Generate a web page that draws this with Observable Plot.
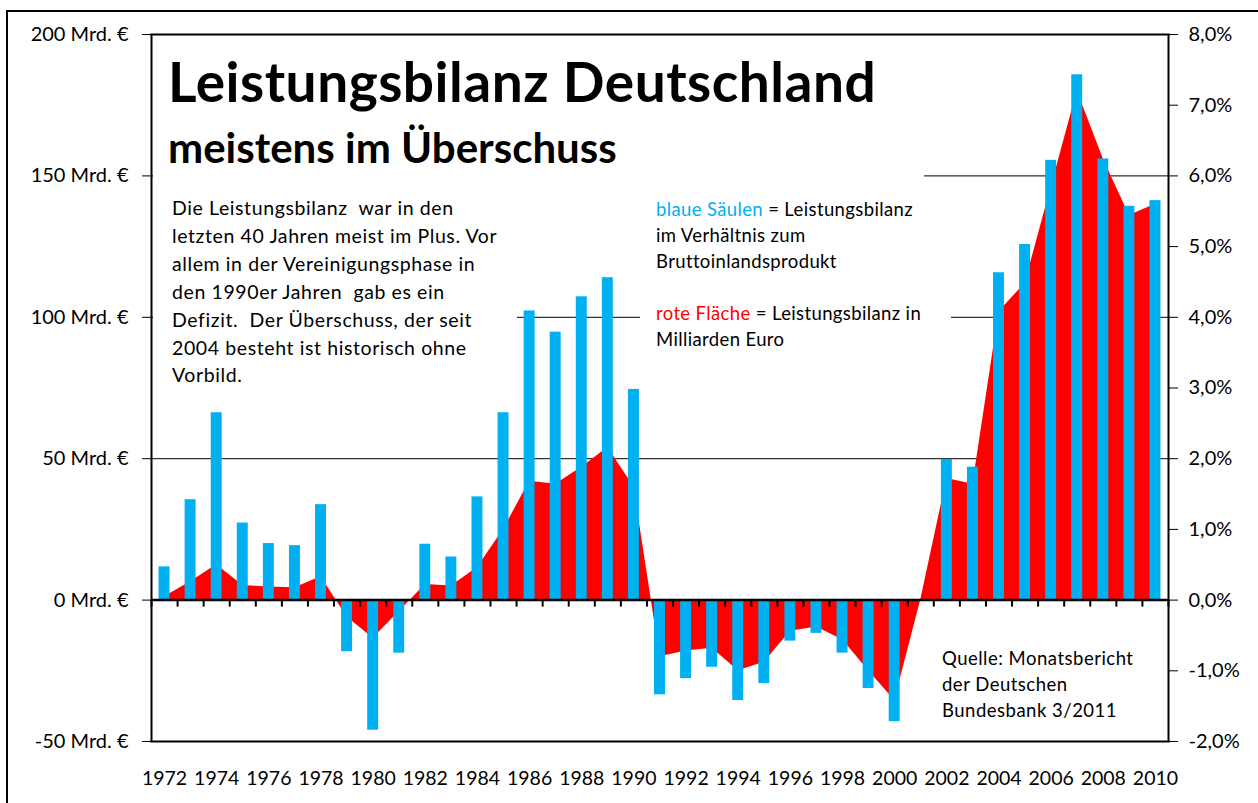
<!DOCTYPE html>
<html><head><meta charset="utf-8">
<script src="https://cdn.jsdelivr.net/npm/d3@7"></script>
<script src="https://cdn.jsdelivr.net/npm/@observablehq/plot@0.6"></script>
<style>
body{margin:0;background:#fff;}
#wrap{position:relative;width:1258px;height:803px;overflow:hidden;}
</style></head><body><div id="wrap"></div>
<script>
// ---- data ----
const years = [1972,1973,1974,1975,1976,1977,1978,1979,1980,1981,1982,1983,1984,1985,1986,1987,1988,1989,1990,
  1991,1992,1993,1994,1995,1996,1997,1998,1999,2000,2001,2002,2003,2004,2005,2006,2007,2008,2009,2010];
// red area: Leistungsbilanz in Mrd. €
const saldoMrd = [1.2,6.5,12.5,5.2,4.6,4.4,8.3,-6,-13.5,-4,5.5,5,11.5,25,42,41,47,54,40,
  -20,-18,-17,-25,-22,-11,-9.5,-14,-25,-35.5,0,43,41,102,112,146,180,156,136,140];
// blue bars: Leistungsbilanz in % des BIP
const saldoPct = [0.47,1.42,2.65,1.09,0.80,0.77,1.35,-0.73,-1.84,-0.75,0.79,0.61,1.46,2.65,4.09,3.79,4.29,4.56,2.98,
  -1.34,-1.11,-0.95,-1.42,-1.18,-0.58,-0.47,-0.75,-1.25,-1.72,0,1.99,1.88,4.63,5.03,6.22,7.43,6.24,5.57,5.65];
const leftTicks = [-50,0,50,100,150,200];
const rightTicks = [-2,-1,0,1,2,3,4,5,6,7,8];
const xLabels = [1972,1974,1976,1978,1980,1982,1984,1986,1988,1990,1992,1994,1996,1998,2000,2002,2004,2006,2008,2010];
const gridLines = [50,100,150];
const pctToMrd = 25; // 8,0% <-> 200 Mrd. €

const titleText = "Leistungsbilanz Deutschland";
const subtitleText = "meistens im Überschuss";
const noteLines = ["Die Leistungsbilanz  war in den","letzten 40 Jahren meist im Plus. Vor","allem in der Vereinigungsphase in",
  "den 1990er Jahren  gab es ein","Defizit.  Der Überschuss, der seit","2004 besteht ist historisch ohne","Vorbild."];
const legendLines = [[["blaue Säulen","#00B0F0"],[" = Leistungsbilanz","#000"]],[["im Verhältnis zum","#000"]],
  [["Bruttoinlandsprodukt","#000"]],[],[["rote Fläche","#FF0000"],[" = Leistungsbilanz in","#000"]],[["Milliarden Euro","#000"]]];
const sourceLines = ["Quelle: Monatsbericht","der Deutschen","Bundesbank 3/2011"];

const table = years.map((year,i) => ({year, mrd: saldoMrd[i], pct: saldoPct[i]}));
const boundaries = years.map(y => y - 0.5).concat([years[years.length-1] + 0.5]);

const FONT = "Lato, 'Open Sans', sans-serif";
const chart = Plot.plot({
  width: 1258, height: 803,
  marginLeft: 151, marginRight: 90, marginTop: 34, marginBottom: 62,
  style: {fontFamily: FONT, fontSize: "19.5px", color: "#000", background: "#fff"},
  x: {domain: [years[0]-0.5, years[years.length-1]+0.5]},
  y: {domain: [-50, 200]},
  marks: [
    Plot.ruleY(gridLines, {stroke: "#000", strokeWidth: 1}),
    Plot.areaY(table, {x: "year", y: "mrd", fill: "#FF0000"}),
    Plot.rect(table, {x1: d => d.year - 0.21, x2: d => d.year + 0.21, y1: 0, y2: d => d.pct * pctToMrd, fill: "#00B0F0"}),
    Plot.ruleY([0], {stroke: "#000", strokeWidth: 2.5}),
    Plot.ruleX(boundaries, {y1: 0, y2: 0, insetBottom: -7, stroke: "#000", strokeWidth: 2}),
    Plot.frame({stroke: "#000", strokeWidth: 2}),
    Plot.axisY(leftTicks, {anchor: "left", tickSize: 9, tickPadding: 14, fontSize: 20,
      tickFormat: d => `${d} Mrd. €`, label: null}),
    Plot.axisY(rightTicks.map(p => p * pctToMrd), {anchor: "right", tickSize: 9, tickPadding: 11, fontSize: 20,
      tickFormat: d => (d / pctToMrd).toFixed(1).replace(".", ",") + "%", label: null}),
    Plot.axisX(xLabels, {anchor: "bottom", tickSize: 0, tickPadding: 30, tickFormat: d => String(d), label: null})
  ]
});
document.getElementById("wrap").appendChild(chart);

// ---- annotations (white text boxes over the gridlines) ----
const svg = d3.select(chart);
const ann = svg.append("g").attr("font-family", FONT).attr("fill", "#000").attr("text-anchor", "start");
[[153,36,771,152],[153,190,364,210],[640,190,311,170]].forEach(([x,y,w,h]) =>
  ann.append("rect").attr("x", x).attr("y", y).attr("width", w).attr("height", h).attr("fill", "#fff"));

ann.append("text").attr("x", 168).attr("y", 102).attr("font-size", 55).attr("letter-spacing", 0.5)
  .attr("font-weight", 700).text(titleText);
ann.append("text").attr("x", 168).attr("y", 163).attr("font-size", 42).attr("font-weight", 700).text(subtitleText);

noteLines.forEach((t, i) => ann.append("text").attr("x", 172).attr("y", 215 + i * 27.9)
  .attr("font-size", 19.5).attr("letter-spacing", 0.6).style("white-space", "pre").text(t));

legendLines.forEach((parts, i) => {
  const t = ann.append("text").attr("x", 656).attr("y", 216 + i * 25.9).attr("font-size", 18.5)
    .attr("letter-spacing", 0.37).style("white-space", "pre");
  parts.forEach(([s, c]) => t.append("tspan").attr("fill", c).text(s));
});

sourceLines.forEach((t, i) => ann.append("text").attr("x", 942).attr("y", 665 + i * 25.9)
  .attr("font-size", 18.5).attr("letter-spacing", 0.5).text(t));

// outer frame of the picture
ann.append("line").attr("x1", 7).attr("x2", 7).attr("y1", 10).attr("y2", 803).attr("stroke", "#000").attr("stroke-width", 2);
ann.append("line").attr("x1", 6).attr("x2", 1258).attr("y1", 11).attr("y2", 11).attr("stroke", "#000").attr("stroke-width", 2);
</script></body></html>
